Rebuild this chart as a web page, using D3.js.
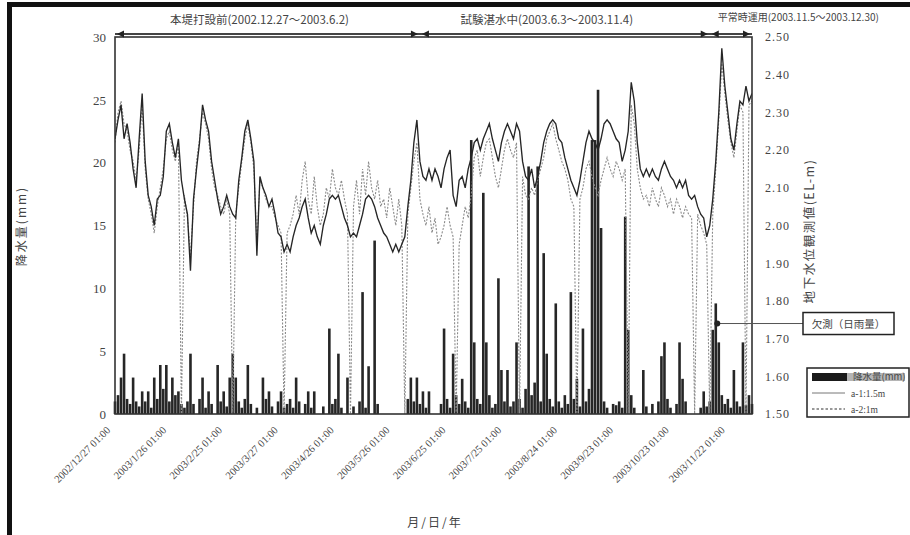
<!DOCTYPE HTML>
<html>
  <head>
    <title>降水量と地下水位</title>
    <style>
      html, body { margin: 0; padding: 0; background: #fff; }
      svg { display: block; }
      .jp { font-family: "Noto Sans CJK JP", sans-serif; fill: #444; }
      .num { font-family: "Liberation Serif", serif; fill: #444; }
    </style>
  </head>
  <body>
    <svg width="910" height="535"></svg>
    <script src="https://d3js.org/d3.v7.min.js"></script>
    <script>
      // daily rain (mm), left axis
      var rain = [
        1.0,1.5,2.9,4.8,1.2,0.8,2.9,1.0,0.6,1.8,
        1.0,1.8,0.5,2.9,1.2,3.9,2.0,3.9,1.0,2.9,
        1.5,1.8,0.8,0.5,1.0,4.8,0.8,0,1.2,2.9,
        0.5,1.8,0.8,0,3.9,1.0,1.8,0.6,2.9,4.8,
        2.9,1.0,0.5,1.2,3.9,0.8,0,0.5,0,2.9,
        1.2,1.8,0.6,0,1.0,1.8,0.5,0.8,1.2,0.5,
        2.9,1.0,0,0.8,1.8,0.5,1.8,0,0,0.6,
        0,6.8,0.8,1.2,4.8,0.5,0,2.9,0,0.6,
        0,1.0,9.7,0.5,3.8,0,13.8,0.8,0,0,
        0,0,0,0,0,0,0,1.2,2.9,1.0,
        2.9,0.8,1.8,0.5,1.8,0,0,0,0.8,6.8,
        1.2,0.5,4.8,1.5,0.8,2.8,1.0,0.5,21.8,5.7,
        1.2,0.8,17.6,5.7,1.5,0.5,0.8,10.8,3.5,1.0,
        3.5,0.6,1.0,5.7,1.2,0.5,2.0,19.7,1.5,2.5,
        19.7,1.0,12.8,4.8,1.2,0.6,8.8,1.0,0.5,1.5,
        0.8,9.7,1.2,2.8,0.6,6.8,1.0,2.0,21.8,21.8,
        25.8,14.8,1.0,0.5,0,0.8,0.7,1.0,0.5,15.7,
        6.7,1.5,0.5,0,0,3.5,0.6,0,0.8,0,
        1.0,4.6,5.7,1.2,0.5,0,0.8,5.7,2.8,1.0,
        0,0,0,0,0.5,1.8,0.6,1.0,6.7,8.8,
        5.7,1.5,0.8,1.2,0.5,3.5,1.0,0.6,5.7,0.7,
        1.5,0.8
      ];

      // groundwater level a-1 (EL-m), right axis
      var wellA1 = [
        2.23,2.28,2.32,2.23,2.27,2.22,2.15,2.10,2.23,2.35,
        2.17,2.08,2.05,2.00,2.07,2.08,2.13,2.25,2.27,2.22,
        2.18,2.23,2.12,2.07,2.03,1.88,2.07,2.15,2.22,2.32,
        2.28,2.25,2.17,2.12,2.07,2.03,2.05,2.08,2.05,2.03,
        2.02,2.12,2.18,2.25,2.28,2.23,2.17,1.92,2.13,2.10,
        2.08,2.05,2.07,2.03,1.98,1.97,1.93,1.95,1.93,1.97,
        2.00,2.02,2.05,2.07,2.02,1.98,2.00,1.97,1.95,2.00,
        2.03,2.07,2.08,2.07,2.08,2.05,2.02,2.00,1.97,1.98,
        1.97,2.00,2.03,2.07,2.08,2.07,2.05,2.02,2.00,1.98,
        1.97,1.95,1.93,1.95,1.93,1.95,1.97,2.05,2.12,2.22,
        2.28,2.17,2.13,2.12,2.15,2.12,2.15,2.13,2.10,2.15,
        2.18,2.20,2.08,2.05,2.12,2.13,2.10,2.15,2.18,2.22,
        2.23,2.20,2.23,2.25,2.27,2.23,2.20,2.17,2.22,2.25,
        2.27,2.25,2.23,2.27,2.25,2.17,2.13,2.12,2.15,2.10,
        2.13,2.17,2.22,2.25,2.27,2.28,2.27,2.23,2.22,2.18,
        2.15,2.12,2.10,2.08,2.12,2.17,2.22,2.25,2.23,2.22,
        2.20,2.23,2.27,2.28,2.27,2.25,2.23,2.22,2.17,2.20,
        2.25,2.38,2.33,2.22,2.15,2.13,2.15,2.13,2.15,2.13,
        2.12,2.15,2.17,2.15,2.13,2.12,2.10,2.12,2.10,2.12,
        2.08,2.07,2.08,2.05,2.03,2.02,1.97,2.00,2.07,2.17,
        2.30,2.47,2.37,2.30,2.23,2.20,2.27,2.33,2.32,2.37,
        2.33,2.35
      ];

      // groundwater level a-2 (EL-m), right axis; 1.50 = missing reading
      var wellA2 = [
        2.22,2.30,2.33,2.27,2.25,2.20,2.17,2.12,2.20,2.32,
        2.15,2.07,2.03,1.98,2.05,2.10,2.15,2.23,2.25,2.20,
        2.17,2.22,1.50,2.08,2.02,1.92,2.05,2.17,2.23,2.30,
        2.27,2.23,2.15,2.10,2.08,2.05,2.03,2.07,2.03,1.50,
        2.03,2.10,2.17,2.23,2.27,2.22,2.15,1.95,2.12,2.10,
        2.07,2.05,2.05,2.02,2.00,1.98,1.50,1.98,2.00,2.03,
        2.08,2.03,2.12,2.17,2.07,2.03,2.13,2.05,2.00,2.03,
        2.10,2.07,2.15,2.10,2.08,2.12,2.07,2.03,1.50,2.05,
        2.12,2.03,2.15,2.08,2.17,2.10,2.07,2.12,2.05,2.07,
        2.02,2.10,2.05,2.00,2.07,2.00,1.50,2.03,2.10,2.17,
        2.22,2.07,2.03,2.00,2.05,1.98,2.02,1.95,1.97,2.00,
        2.05,2.00,1.97,1.50,1.95,2.00,2.05,2.02,2.08,2.18,
        2.20,2.13,2.18,2.22,2.23,2.18,2.13,2.10,2.15,2.20,
        2.23,2.20,2.18,2.22,1.50,2.13,2.08,2.07,2.10,2.08,
        2.12,2.15,2.18,2.23,2.25,2.27,2.23,2.20,2.17,2.15,
        2.12,2.07,2.05,1.50,2.07,2.10,2.15,2.17,2.13,2.10,
        2.08,2.12,2.15,2.18,2.15,2.13,2.17,2.15,2.12,2.15,
        1.50,2.32,2.27,2.15,2.10,2.07,2.08,2.05,2.10,2.07,
        2.05,2.10,2.08,2.05,2.07,2.03,2.07,2.05,2.02,2.05,
        2.03,2.02,1.50,2.03,2.00,1.98,1.95,1.50,2.03,2.15,
        2.28,2.43,2.35,2.28,2.22,2.18,2.25,2.32,2.30,1.50,
        2.32,2.33
      ];

      var tickIndex = [0, 18.5, 37, 55.5, 74, 92.5, 111, 129.5, 148, 166.5, 185, 203.5];
      var tickLabels = [
        '2002/12/27 01:00', '2003/1/26 01:00', '2003/2/25 01:00', '2003/3/27 01:00',
        '2003/4/26 01:00', '2003/5/26 01:00', '2003/6/25 01:00', '2003/7/25 01:00',
        '2003/8/24 01:00', '2003/9/23 01:00', '2003/10/23 01:00', '2003/11/22 01:00'
      ];
      var rainTicks = [0, 5, 10, 15, 20, 25, 30];
      var levelTicks = [1.5, 1.6, 1.7, 1.8, 1.9, 2.0, 2.1, 2.2, 2.3, 2.4, 2.5];

      var periodLabels = [
        '本堤打設前(2002.12.27～2003.6.2)',
        '試験湛水中(2003.6.3～2003.11.4)',
        '平常時運用(2003.11.5～2003.12.30)'
      ];
      var periodBounds = [0, 101, 197, 211];

      var legendLabels = ['降水量(mm)', 'a-1:1.5m', 'a-2:1m'];
      var noteLabel = '欠測（日雨量）';
      var notePoint = { index: 199.5, level: 1.74 };

      var svg = d3.select('svg');
      var plotLeft = 115, plotRight = 752, plotTop = 37, plotBottom = 414;

      var xScale = d3.scaleLinear().domain([0, rain.length - 1]).range([plotLeft, plotRight]);
      var rainScale = d3.scaleLinear().domain([0, 30]).range([plotBottom, plotTop]);
      var levelScale = d3.scaleLinear().domain([1.5, 2.5]).range([plotBottom, plotTop]);

      // scanned page edge
      svg.append('rect').attr('x', 7).attr('y', 2).attr('width', 903).attr('height', 5).attr('fill', '#111');
      svg.append('rect').attr('x', 7).attr('y', 2).attr('width', 5).attr('height', 533).attr('fill', '#111');

      svg.append('defs').append('clipPath').attr('id', 'plot')
        .append('rect')
          .attr('x', plotLeft).attr('y', plotTop)
          .attr('width', plotRight - plotLeft).attr('height', plotBottom - plotTop);

      svg.append('g')
        .selectAll('rect')
        .data(rain)
        .enter()
        .append('rect')
          .attr('x', function(d, i) { return xScale(i) - 1.3; })
          .attr('y', function(d) { return rainScale(d); })
          .attr('width', 2.6)
          .attr('height', function(d) { return plotBottom - rainScale(d); })
          .attr('fill', '#262626');

      var levelLine = d3.line()
        .x(function(d, i) { return xScale(i); })
        .y(function(d) { return levelScale(d); });

      svg.append('path')
        .datum(wellA2)
        .attr('d', levelLine)
        .attr('fill', 'none')
        .attr('stroke', '#8a8a8a')
        .attr('stroke-width', 1.1)
        .attr('stroke-dasharray', '2,1.5')
        .attr('clip-path', 'url(#plot)');

      svg.append('path')
        .datum(wellA1)
        .attr('d', levelLine)
        .attr('fill', 'none')
        .attr('stroke', '#262626')
        .attr('stroke-width', 1.35)
        .attr('clip-path', 'url(#plot)');

      // plot frame
      svg.append('rect')
        .attr('x', plotLeft).attr('y', plotTop)
        .attr('width', plotRight - plotLeft).attr('height', plotBottom - plotTop)
        .attr('fill', 'none').attr('stroke', '#333').attr('stroke-width', 1.6);

      var leftAxis = svg.append('g')
        .attr('transform', 'translate(' + plotLeft + ',0)')
        .call(d3.axisLeft(rainScale).tickValues(rainTicks).tickSize(0).tickPadding(9));
      leftAxis.select('.domain').remove();
      leftAxis.selectAll('text').attr('class', 'num').attr('font-size', 13);

      var rightAxis = svg.append('g')
        .attr('transform', 'translate(' + plotRight + ',0)')
        .call(d3.axisRight(levelScale).tickValues(levelTicks).tickFormat(d3.format('.2f')).tickSize(0).tickPadding(13));
      rightAxis.select('.domain').remove();
      rightAxis.selectAll('text').attr('class', 'num').attr('font-size', 12).attr('letter-spacing', 1);

      var bottomAxis = svg.append('g')
        .attr('transform', 'translate(0,' + plotBottom + ')')
        .call(d3.axisBottom(xScale).tickValues(tickIndex)
          .tickFormat(function(d, i) { return tickLabels[i]; }).tickSize(0));
      bottomAxis.select('.domain').remove();
      bottomAxis.selectAll('text')
        .attr('class', 'num')
        .attr('font-size', 10.5)
        .attr('text-anchor', 'end')
        .attr('x', -15)
        .attr('y', 5)
        .attr('dy', '0.35em')
        .attr('transform', 'rotate(-45)');

      // axis titles
      svg.append('text').attr('class', 'jp')
        .attr('transform', 'translate(26,226) rotate(-90)')
        .attr('text-anchor', 'middle').attr('font-size', 12).attr('letter-spacing', 2)
        .text('降水量(mm)');
      svg.append('text').attr('class', 'jp')
        .attr('transform', 'translate(814,231) rotate(-90)')
        .attr('text-anchor', 'middle').attr('font-size', 12.5).attr('letter-spacing', 1.5)
        .text('地下水位観測値(EL-m)');
      svg.append('text').attr('class', 'jp')
        .attr('x', 435).attr('y', 527)
        .attr('text-anchor', 'middle').attr('font-size', 12).attr('letter-spacing', 2)
        .text('月/日/年');

      // period header with arrows
      var headerY = 34;
      svg.append('line')
        .attr('x1', plotLeft).attr('x2', plotRight).attr('y1', headerY).attr('y2', headerY)
        .attr('stroke', '#444').attr('stroke-width', 2);

      function arrowHead(x, dir) {
        var p = [[x, headerY], [x - 7 * dir, headerY - 3.5], [x - 7 * dir, headerY + 3.5]];
        svg.append('polygon')
          .attr('points', p.map(function(q) { return q.join(','); }).join(' '))
          .attr('fill', '#222');
      }
      periodBounds.forEach(function(b, k) {
        var x = xScale(b);
        if (k > 0) { arrowHead(x - 2, 1); }
        if (k < periodBounds.length - 1) { arrowHead(x + 2, -1); }
      });

      periodLabels.forEach(function(label, k) {
        var x0 = xScale(periodBounds[k]);
        var x1 = xScale(periodBounds[k + 1]);
        var t = svg.append('text').attr('class', 'jp').text(label);
        if (k < 2) {
          t.attr('x', (x0 + x1) / 2 - (k === 0 ? 8 : 18)).attr('y', 24)
            .attr('text-anchor', 'middle').attr('font-size', 11.5);
        } else {
          t.attr('x', x0 + 8).attr('y', 21).attr('text-anchor', 'start').attr('font-size', 10);
        }
      });

      // note callout
      var noteX = xScale(notePoint.index);
      var noteY = levelScale(notePoint.level);
      svg.append('line')
        .attr('x1', noteX).attr('x2', 803).attr('y1', noteY).attr('y2', noteY)
        .attr('stroke', '#555').attr('stroke-width', 1);
      svg.append('circle').attr('cx', noteX).attr('cy', noteY).attr('r', 3).attr('fill', '#222');
      svg.append('rect')
        .attr('x', 803).attr('y', noteY - 11).attr('width', 91).attr('height', 22)
        .attr('fill', '#fff').attr('stroke', '#222').attr('stroke-width', 1.5);
      svg.append('text').attr('class', 'jp')
        .attr('x', 848.5).attr('y', noteY + 4).attr('text-anchor', 'middle').attr('font-size', 10.5)
        .text(noteLabel);

      // legend
      var legend = svg.append('g').attr('transform', 'translate(807,368)');
      legend.append('rect')
        .attr('width', 102).attr('height', 49)
        .attr('fill', '#fff').attr('stroke', '#222').attr('stroke-width', 1.5);
      legend.append('rect').attr('x', 5).attr('y', 5).attr('width', 35).attr('height', 8).attr('fill', '#1a1a1a');
      legend.append('rect').attr('x', 40).attr('y', 5).attr('width', 58).attr('height', 8).attr('fill', '#b5b5b5');
      legend.append('line').attr('x1', 5).attr('x2', 38).attr('y1', 25).attr('y2', 25)
        .attr('stroke', '#777').attr('stroke-width', 1);
      legend.append('line').attr('x1', 5).attr('x2', 38).attr('y1', 41).attr('y2', 41)
        .attr('stroke', '#333').attr('stroke-width', 1.2).attr('stroke-dasharray', '2.5,2');
      legend.selectAll('text.item')
        .data(legendLabels)
        .enter()
        .append('text')
          .attr('class', function(d, i) { return i === 0 ? 'jp item' : 'num item'; })
          .attr('x', function(d, i) { return i === 0 ? 46 : 44; })
          .attr('y', function(d, i) { return 12 + i * 16.5; })
          .attr('font-size', 9.5)
          .text(function(d) { return d; });
    </script>
  </body>
</html>
